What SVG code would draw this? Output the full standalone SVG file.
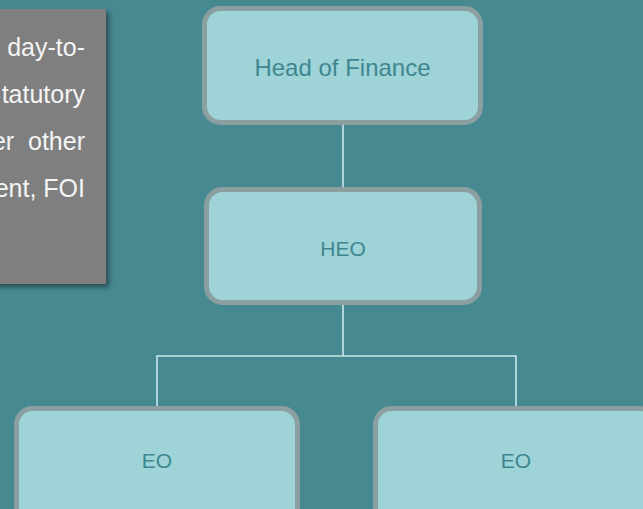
<svg xmlns="http://www.w3.org/2000/svg" width="643" height="509" viewBox="0 0 643 509">
<defs>
<style>
.node rect{fill:#9ed3d7;stroke:#8b9fa1;stroke-width:5}
.node text{font-family:"Liberation Sans",Arial,sans-serif;fill:#3f8790;text-anchor:middle}
.conn{fill:none;stroke:#c8e7ea;stroke-width:1.6}
.note{font-family:"Liberation Sans",Arial,sans-serif;font-size:25px;fill:#f4f4f4;text-anchor:end}
</style>
<filter id="sh" x="-10%" y="-10%" width="130%" height="130%">
<feDropShadow dx="3" dy="3" stdDeviation="2.5" flood-color="#000" flood-opacity="0.45"/>
</filter>
</defs>
<rect width="643" height="509" fill="#468991"/>
<g id="note">
<rect x="-10" y="9" width="116" height="275" fill="#7f7f7f" filter="url(#sh)"/>
<text class="note" x="85" y="56">day-to-</text>
<text class="note" x="85" y="103">tatutory</text>
<text class="note" x="85" y="150" xml:space="preserve">er  other</text>
<text class="note" x="85" y="197">ent, FOI</text>
</g>
<g id="connectors">
<path class="conn" d="M343 125V187"/>
<path class="conn" d="M343 305V356M157 406V356H516V406"/>
</g>
<g id="head" class="node">
<rect x="204.5" y="8.5" width="276" height="114" rx="16"/>
<text x="342.5" y="76" font-size="24">Head of Finance</text>
</g>
<g id="heo" class="node">
<rect x="206.5" y="189.5" width="273" height="113" rx="16"/>
<text x="343" y="256" font-size="21">HEO</text>
</g>
<g id="eo1" class="node">
<rect x="16.5" y="408.5" width="281" height="118" rx="16"/>
<text x="157" y="468" font-size="21">EO</text>
</g>
<g id="eo2" class="node">
<rect x="375.5" y="408.5" width="281" height="118" rx="16"/>
<text x="516" y="468" font-size="21">EO</text>
</g>
</svg>
